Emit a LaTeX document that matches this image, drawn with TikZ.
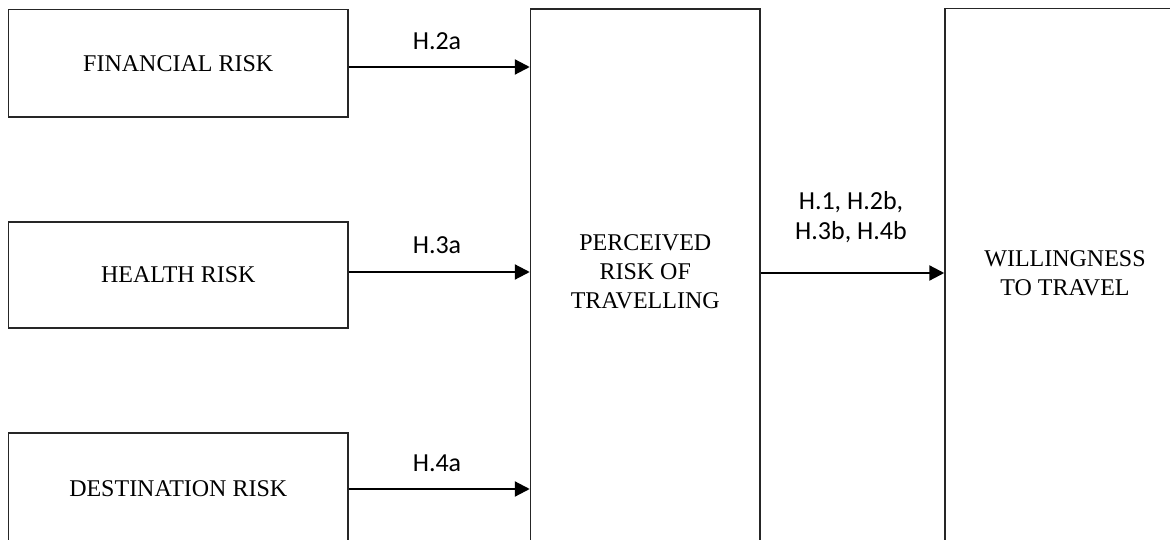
\documentclass[tikz,border=0pt]{standalone}
\usepackage{fontspec}
\setmainfont{Liberation Serif}
\newfontfamily\lblfont{Carlito}
\usetikzlibrary{arrows.meta}

\tikzset{
  riskbox/.style={draw=black!85, line width=1.5pt, align=center, inner sep=0pt,
    font=\fontsize{24}{29}\selectfont},
  boxtext/.style={align=center, inner sep=0pt, font=\fontsize{24}{29}\selectfont},
  link/.style={draw=black, line width=2.2pt, -{Triangle[length=15pt,width=15pt]}},
  hyp/.style={font=\lblfont\fontsize{26}{30}\selectfont, align=center, inner sep=0pt}
}

\begin{document}
\begin{tikzpicture}[x=1pt, y=-1pt]
  \useasboundingbox (0,0) rectangle (1170,540);
  \clip (0,0) rectangle (1170,540);
  \fill[white] (0,0) rectangle (1170,540);

  % three antecedent risk boxes
  \node[riskbox, minimum width=339.5pt, minimum height=107.5pt] (fin) at (178.25,63.25) {FINANCIAL RISK};
  \node[riskbox, minimum width=339.5pt, minimum height=106pt] (hea) at (178.25,275) {HEALTH RISK};
  \node[riskbox, minimum width=339.5pt, minimum height=112pt] (des) at (178.25,489) {DESTINATION RISK};

  % mediator and outcome boxes, both running past the lower edge
  \node[riskbox, minimum width=229.5pt, minimum height=580pt] (per) at (645.25,299) {};
  \node[riskbox, minimum width=240pt, minimum height=580pt] (wil) at (1065,298.5) {};
  \node[boxtext] (pertext) at (645.25,272) {PERCEIVED\\RISK OF\\TRAVELLING};
  \node[boxtext] (wiltext) at (1065,273) {WILLINGNESS\\TO TRAVEL};

  % hypothesised paths
  \draw[link] ([yshift=-3.75pt]fin.east) -- ([yshift=-3.75pt]fin.east -| per.west);
  \draw[link] ([yshift=3pt]hea.east) -- ([yshift=3pt]hea.east -| per.west);
  \draw[link] (des.east) -- (des.east -| per.west);
  \draw[link] (per.east |- wiltext.west) -- (wil.west |- wiltext.west);

  % path labels
  \node[hyp] (h2a) at (437,41) {H.2a};
  \node[hyp] (h3a) at (437,245) {H.3a};
  \node[hyp] (h4a) at (437,463) {H.4a};
  \node[hyp] (hout) at (851,217) {H.1, H.2b,\\H.3b, H.4b};
\end{tikzpicture}
\end{document}
